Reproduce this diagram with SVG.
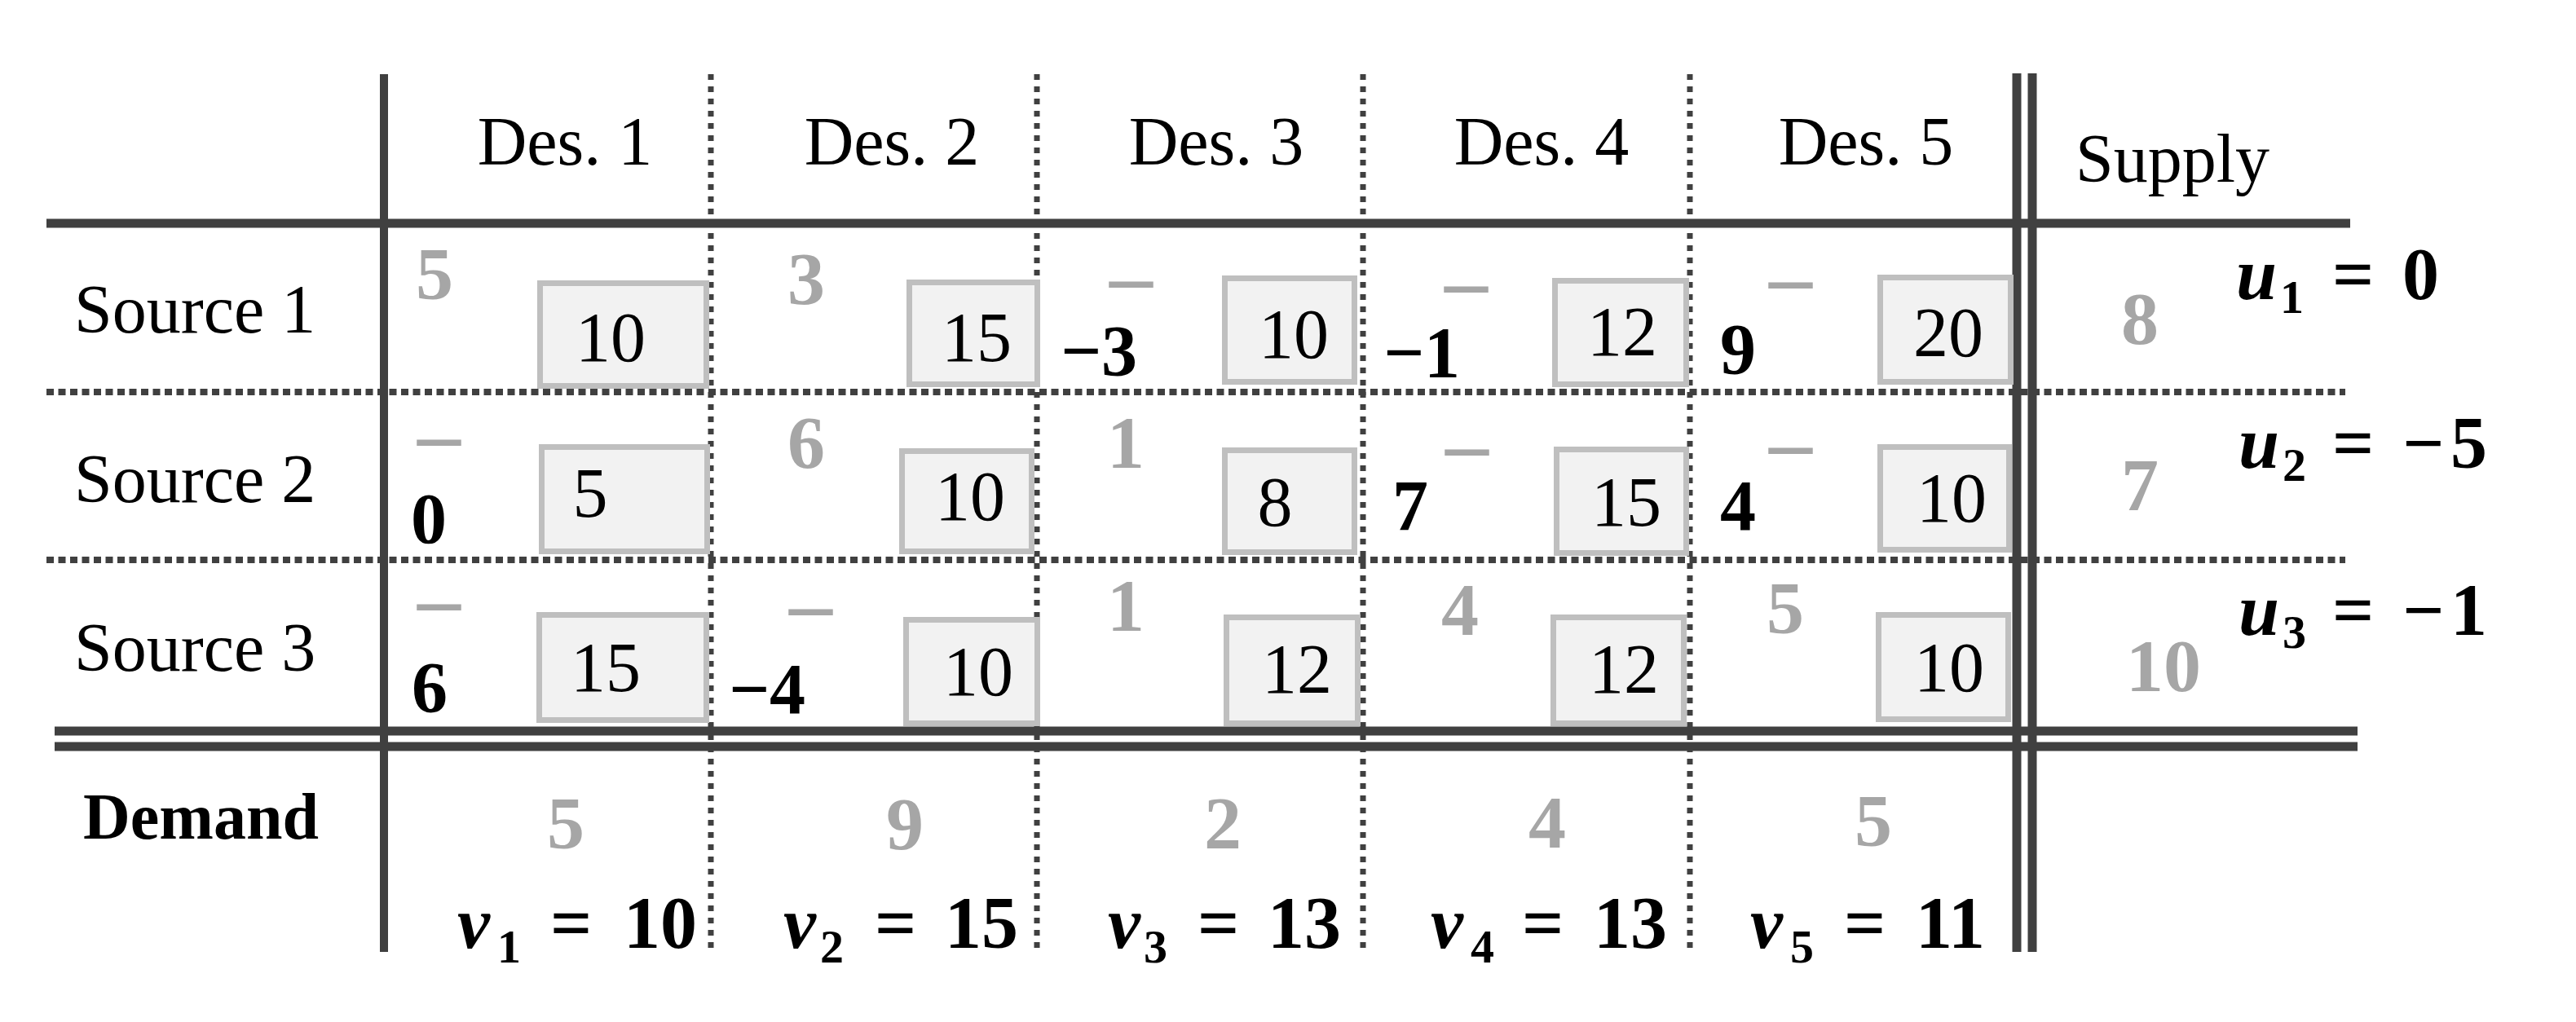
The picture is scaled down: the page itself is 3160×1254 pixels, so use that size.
<svg xmlns="http://www.w3.org/2000/svg" width="3160" height="1254" viewBox="0 0 3160 1254">
<style>
text{font-family:"Liberation Serif","Times New Roman",serif}
.hd{font-size:84px;fill:#000}
.hm{font-size:84px;fill:#000;text-anchor:middle}
.g{font-size:92px;font-weight:bold;fill:#a6a6a6;text-anchor:middle}
.k{font-size:88px;font-weight:bold;fill:#000;text-anchor:middle}
.bx{fill:#f2f2f2;stroke:#bfbfbf;stroke-width:7}
.bt{font-size:86px;fill:#000;text-anchor:middle}
.ds{font-size:106px;font-weight:bold;fill:#a6a6a6}
.thick{stroke:#404040;stroke-width:11;fill:none}
.dh{stroke:#404040;stroke-width:8;stroke-dasharray:9 5.5;fill:none}
.dv{stroke:#404040;stroke-width:7;stroke-dasharray:7 8;fill:none}
.m{font-size:90px;font-weight:bold;fill:#000}
.mi{font-style:italic}
.sub{font-size:58px}
</style>
<rect width="3160" height="1254" fill="#fff"/>
<g id="grid">
<line class="thick" x1="57" y1="274" x2="2883" y2="274"/>
<line class="dh" x1="57" y1="481" x2="2877" y2="481"/>
<line class="dh" x1="57" y1="687" x2="2877" y2="687"/>
<line class="thick" x1="67" y1="897" x2="2892" y2="897"/>
<line class="thick" x1="67" y1="916" x2="2892" y2="916"/>
<line class="dv" x1="872" y1="91" x2="872" y2="1168"/>
<line class="dv" x1="1272" y1="91" x2="1272" y2="1168"/>
<line class="dv" x1="1672" y1="91" x2="1672" y2="1168"/>
<line class="dv" x1="2073" y1="91" x2="2073" y2="1168"/>
<line class="thick" x1="471" y1="91" x2="471" y2="1168" style="stroke-width:10"/>
<line class="thick" x1="2474" y1="90" x2="2474" y2="1168"/>
<line class="thick" x1="2493" y1="90" x2="2493" y2="1168"/>
</g>
<g id="header">
<text class="hm" x="693" y="202">Des. 1</text>
<text class="hm" x="1094" y="202">Des. 2</text>
<text class="hm" x="1492" y="202">Des. 3</text>
<text class="hm" x="1891" y="202">Des. 4</text>
<text class="hm" x="2289" y="202">Des. 5</text>
<text class="hm" x="2665" y="223">Supply</text>
</g>
<g id="row1">
<text class="hd" x="91" y="408">Source 1</text>
<g id="r1c1"><text class="g" x="533" y="367">5</text><rect class="bx" x="662.5" y="347.5" width="204" height="126"/><text class="bt" x="749" y="443">10</text></g>
<g id="r1c2"><text class="g" x="989" y="373">3</text><rect class="bx" x="1115.5" y="346.5" width="157" height="125"/><text class="bt" x="1198" y="443">15</text></g>
<g id="r1c3"><text class="k" x="1348" y="460">−3</text><text class="ds" x="1361" y="374">–</text><rect class="bx" x="1502.5" y="341.5" width="159" height="127"/><text class="bt" x="1587" y="439">10</text></g>
<g id="r1c4"><text class="k" x="1744" y="462">−1</text><text class="ds" x="1772" y="380">–</text><rect class="bx" x="1907.5" y="344.5" width="161" height="127"/><text class="bt" x="1990" y="436">12</text></g>
<g id="r1c5"><text class="k" x="2132" y="458">9</text><text class="ds" x="2170" y="375">–</text><rect class="bx" x="2306.5" y="340.5" width="160" height="128"/><text class="bt" x="2390" y="437">20</text></g>
<text class="g" x="2625" y="422">8</text>
<text class="m" y="367"><tspan class="mi" x="2743">u</tspan><tspan class="sub" x="2797" y="384">1</tspan><tspan x="2861" y="367">=</tspan><tspan x="2947">0</tspan></text>
</g>
<g id="row2">
<text class="hd" x="91" y="616">Source 2</text>
<g id="r2c1"><text class="ds" x="512" y="568">–</text><text class="k" x="526" y="666">0</text><rect class="bx" x="664.5" y="548.5" width="203" height="128"/><text class="bt" x="724" y="634">5</text></g>
<g id="r2c2"><text class="g" x="989" y="574">6</text><rect class="bx" x="1106.5" y="553.5" width="159" height="123"/><text class="bt" x="1190" y="638">10</text></g>
<g id="r2c3"><text class="g" x="1381" y="574">1</text><rect class="bx" x="1502.5" y="552.5" width="159" height="125"/><text class="bt" x="1564" y="645">8</text></g>
<g id="r2c4"><text class="k" x="1730" y="650">7</text><text class="ds" x="1773" y="580">–</text><rect class="bx" x="1909.5" y="551.5" width="159" height="127"/><text class="bt" x="1995" y="645">15</text></g>
<g id="r2c5"><text class="k" x="2132" y="650">4</text><text class="ds" x="2170" y="578">–</text><rect class="bx" x="2306.5" y="548.5" width="158" height="126"/><text class="bt" x="2394" y="640">10</text></g>
<text class="g" x="2625" y="626">7</text>
<text class="m" y="574"><tspan class="mi" x="2746">u</tspan><tspan class="sub" x="2800" y="590">2</tspan><tspan x="2861" y="574">=</tspan><tspan x="2947">−</tspan><tspan x="3006">5</tspan></text>
</g>
<g id="row3">
<text class="hd" x="91" y="823">Source 3</text>
<g id="r3c1"><text class="ds" x="512" y="770">–</text><text class="k" x="527" y="873">6</text><rect class="bx" x="661.5" y="754.5" width="205" height="129"/><text class="bt" x="743" y="848">15</text></g>
<g id="r3c2"><text class="k" x="941" y="875">−4</text><text class="ds" x="968" y="776">–</text><rect class="bx" x="1111.5" y="760.5" width="161" height="127"/><text class="bt" x="1200" y="853">10</text></g>
<g id="r3c3"><text class="g" x="1381" y="774">1</text><rect class="bx" x="1504.5" y="757.5" width="161" height="130"/><text class="bt" x="1591" y="850">12</text></g>
<g id="r3c4"><text class="g" x="1791" y="779">4</text><rect class="bx" x="1905.5" y="757.5" width="160" height="130"/><text class="bt" x="1992" y="850">12</text></g>
<g id="r3c5"><text class="g" x="2190" y="777">5</text><rect class="bx" x="2304.5" y="754.5" width="159" height="128"/><text class="bt" x="2391" y="848">10</text></g>
<text class="g" x="2654" y="848">10</text>
<text class="m" y="779"><tspan class="mi" x="2746">u</tspan><tspan class="sub" x="2800" y="795">3</tspan><tspan x="2861" y="779">=</tspan><tspan x="2947">−</tspan><tspan x="3006">1</tspan></text>
</g>
<g id="demand">
<text class="hd" x="102" y="1029" style="font-size:80px;font-weight:bold">Demand</text>
<text class="g" x="694" y="1041">5</text>
<text class="g" x="1110" y="1042">9</text>
<text class="g" x="1500" y="1041">2</text>
<text class="g" x="1898" y="1040">4</text>
<text class="g" x="2298" y="1038">5</text>
<text class="m" y="1163"><tspan class="mi" x="561">v</tspan><tspan class="sub" x="610" y="1181">1</tspan><tspan x="675" y="1163">=</tspan><tspan x="765">10</tspan></text>
<text class="m" y="1163"><tspan class="mi" x="961">v</tspan><tspan class="sub" x="1006" y="1181">2</tspan><tspan x="1073" y="1163">=</tspan><tspan x="1159">15</tspan></text>
<text class="m" y="1163"><tspan class="mi" x="1359">v</tspan><tspan class="sub" x="1403" y="1181">3</tspan><tspan x="1469" y="1163">=</tspan><tspan x="1555">13</tspan></text>
<text class="m" y="1163"><tspan class="mi" x="1755">v</tspan><tspan class="sub" x="1804" y="1181">4</tspan><tspan x="1867" y="1163">=</tspan><tspan x="1955">13</tspan></text>
<text class="m" y="1163"><tspan class="mi" x="2147">v</tspan><tspan class="sub" x="2196" y="1181">5</tspan><tspan x="2262" y="1163">=</tspan><tspan x="2350">11</tspan></text>
</g>
</svg>
